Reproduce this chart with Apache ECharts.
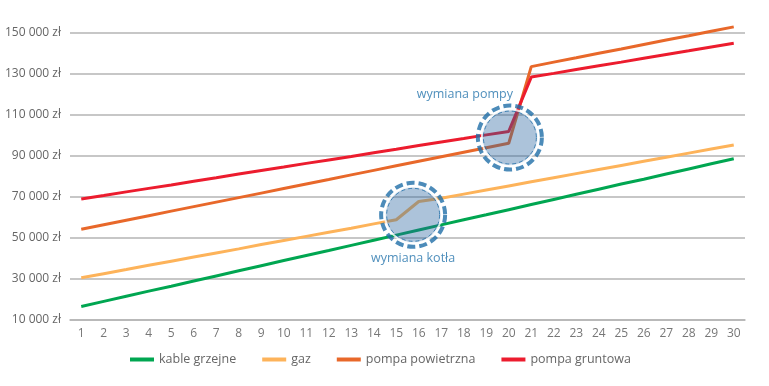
<!DOCTYPE html>
<html>
<head>
<meta charset="utf-8">
<script src="https://cdn.jsdelivr.net/npm/echarts@6/dist/echarts.min.js"></script>
<style>
html,body{margin:0;padding:0;background:#fff;}
#chart{width:769px;height:386px;}
</style>
</head>
<body>
<div id="chart"></div>
<script>
const years = [1,2,3,4,5,6,7,8,9,10,11,12,13,14,15,16,17,18,19,20,21,22,23,24,25,26,27,28,29,30];
const kableGrzejne = [16600,19100,21600,24100,26500,29000,31500,34000,36500,39000,41500,43900,46400,48900,51400,53900,56400,58900,61300,63800,66300,68800,71300,73800,76300,78700,81200,83700,86200,88700];
const gaz = [30600,32600,34600,36700,38700,40700,42700,44700,46800,48800,50800,52800,54800,56900,58900,67800,69400,71400,73400,75400,77400,79400,81400,83400,85400,87400,89400,91400,93400,95400];
const pompaPowietrzna = [54300,56500,58700,60900,63100,65300,67500,69700,71900,74100,76300,78500,80800,83000,85200,87400,89600,91800,94000,96200,133600,135800,137900,140100,142200,144400,146600,148700,150900,153000];
const pompaGruntowa = [69000,70700,72500,74200,75900,77700,79400,81200,82900,84600,86400,88100,89800,91600,93300,95100,96800,98500,100300,102000,128500,130300,132200,134000,135800,137700,139500,141300,143200,145000];
const seriesNames = ['kable grzejne','gaz','pompa powietrzna','pompa gruntowa'];
const annotations = [
  {x: 15.75, y: 61300, text: 'wymiana kotła', pos: 'bottom', off: [0, 0]},
  {x: 20.05, y: 99000, text: 'wymiana pompy', pos: 'top', off: [-45, 0]}
];

const colors = ['#00a651','#fdb35a','#e8682a','#ec1c2e'];
const dataSets = [kableGrzejne, gaz, pompaPowietrzna, pompaGruntowa];
const fontFamily = '"Open Sans", "Noto Sans", sans-serif';
const fmt = v => String(v).replace(/\B(?=(\d{3})+(?!\d))/g, ' ') + ' zł';

const chart = echarts.init(document.getElementById('chart'));
const lineSeries = dataSets.map((d, i) => ({
  name: seriesNames[i],
  type: 'line',
  data: d,
  symbol: 'none',
  clip: false,
  lineStyle: {width: 3, color: colors[i]},
  itemStyle: {color: colors[i]},
  z: 2
}));
const annData = annotations.map(a => [a.x, a.y]);
const circleSeries = [
  {
    type: 'scatter', xAxisIndex: 1, data: annData, symbolSize: 64, silent: true, z: 5,
    itemStyle: {color: 'rgba(0,0,0,0)', borderColor: '#1f6ea8', borderWidth: 4, borderType: [8, 4]}
  },
  {
    type: 'scatter', xAxisIndex: 1, data: annData, symbolSize: 56, silent: true, z: 4,
    itemStyle: {color: 'rgba(40,100,160,0.48)', borderColor: '#ffffff', borderWidth: 2}
  },
  {
    type: 'scatter', xAxisIndex: 1, data: annotations.map(a => ({
      value: [a.x, a.y],
      label: {show: true, position: a.pos, offset: a.off, distance: 10, formatter: a.text,
        color: '#2373ab', fontSize: 12.5, fontFamily: fontFamily}
    })), symbolSize: 53, silent: true, z: 6,
    itemStyle: {color: 'rgba(0,0,0,0)', borderColor: '#1f6ea8', borderWidth: 1, borderType: [4, 3]}
  }
];

chart.setOption({
  animation: false,
  backgroundColor: '#fff',
  textStyle: {fontFamily: fontFamily},
  grid: {left: 70, right: 24, top: 33, bottom: 66},
  legend: {
    data: seriesNames,
    left: 125, top: 348,
    itemGap: 26, itemWidth: 24, itemHeight: 4,
    icon: 'rect',
    textStyle: {color: '#666', fontSize: 12.5, fontFamily: fontFamily}
  },
  xAxis: [
    {
      type: 'category', data: years, boundaryGap: true,
      axisLine: {show: true, lineStyle: {color: '#b5b5b5', width: 1.5}},
      axisTick: {show: false},
      axisLabel: {color: '#777', fontSize: 12, margin: 8, interval: 0, fontFamily: fontFamily}
    },
    {type: 'value', min: 0.5, max: 30.5, show: false}
  ],
  yAxis: {
    type: 'value', min: 10000, max: 150000, interval: 20000,
    axisLine: {show: false}, axisTick: {show: false},
    splitLine: {lineStyle: {color: '#b5b5b5', width: 1.5}},
    axisLabel: {color: '#666', fontSize: 12, margin: 9, formatter: fmt, fontFamily: fontFamily}
  },
  series: lineSeries.concat(circleSeries)
});
</script>
</body>
</html>
